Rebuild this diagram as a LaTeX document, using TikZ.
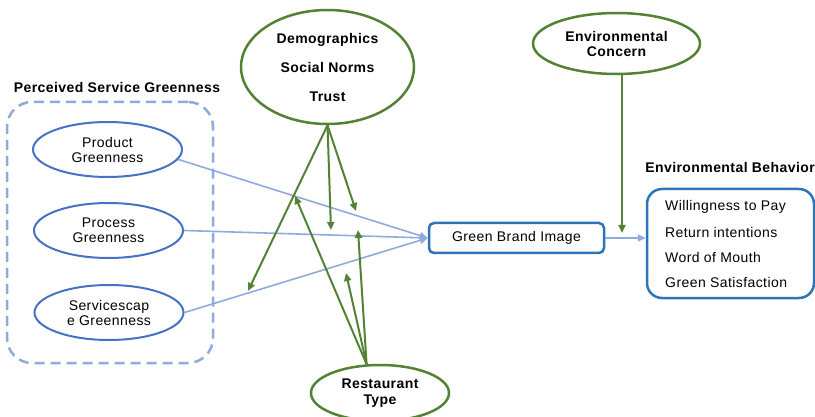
\documentclass[tikz,border=0pt]{standalone}
\usepackage{fontspec}
\setmainfont[LetterSpace=3]{Liberation Sans}
\usetikzlibrary{shapes.geometric,arrows.meta}
\definecolor{grn}{HTML}{548235}
\definecolor{ellblue}{HTML}{4472C4}
\definecolor{boxblue}{HTML}{2E75B6}
\definecolor{lblue}{HTML}{8FAADC}
\begin{document}
\begin{tikzpicture}[x=1pt,y=-1pt,
  gell/.style={ellipse,draw=grn,line width=2.5pt,inner sep=0pt,align=center,font=\fontsize{14}{15}\selectfont\bfseries},
  bell/.style={ellipse,draw=ellblue,line width=2pt,inner sep=0pt,align=center,minimum width=149pt,minimum height=55pt,font=\fontsize{14}{15}\selectfont},
  garr/.style={draw=grn,line width=2pt,-{Triangle[length=8pt,width=7pt]}},
  barr/.style={draw=lblue,line width=1.6pt,-{Triangle[length=8pt,width=7pt]}},
  hdr/.style={font=\fontsize{14}{16}\selectfont\bfseries},
  itm/.style={anchor=west,inner sep=0pt,font=\fontsize{14}{16}\selectfont}
]
\useasboundingbox (0,0) rectangle (815,417);

% perceived service greenness group
\node[draw=lblue,dash pattern=on 10pt off 6pt,line width=2.5pt,rounded corners=25pt,
      minimum width=206pt,minimum height=261pt,inner sep=0pt] (psg) at (110,232.5) {};
\node[hdr] (psglbl) at (117,87) {Perceived Service Greenness};
\node[bell] (prod) at (107.5,149.5) {Product\\Greenness};
\node[bell] (proc) at (108.5,230.5) {Process\\Greenness};
\node[bell] (serv) at (109,312.5) {Servicescap\\e Greenness};

% moderators
\node[gell,minimum width=173pt,minimum height=114pt] (demo) at (327.5,67)
  {Demographics\\[14pt]Social Norms\\[14pt]Trust};
\node[gell,minimum width=138pt,minimum height=56pt,font=\fontsize{14}{16.5}\selectfont\bfseries] (rest) at (380,393) {Restaurant\\Type};
\node[gell,minimum width=167pt,minimum height=61pt] (ec) at (616.5,43.5) {Environmental\\Concern};

% green brand image
\node[draw=boxblue,line width=2.5pt,rounded corners=5pt,minimum width=175pt,minimum height=30pt,
      inner sep=0pt,font=\fontsize{14}{16}\selectfont] (gbi) at (516.5,238) {Green Brand Image};

% environmental behavior
\node[draw=boxblue,line width=2.5pt,rounded corners=15pt,minimum width=167pt,minimum height=109pt,inner sep=0pt] (eb) at (730.5,243.5) {};
\node[hdr,anchor=east,inner sep=0pt] (eblbl) at (815,167) {Environmental Behavior};
\node[itm] (eb1) at (665,207) {Willingness to Pay};
\node[itm] (eb2) at (665,232) {Return intentions};
\node[itm] (eb3) at (665,257) {Word of Mouth};
\node[itm] (eb4) at (665,282) {Green Satisfaction};

% blue arrows
\draw[barr] (prod.-8) -- (gbi.west);
\draw[barr] (proc.east) -- (gbi.west);
\draw[barr] (serv.east) -- (gbi.west);
\draw[barr] (gbi.east) -- (gbi.east -| eb.west);

% green arrows from demographics
\coordinate (d1) at (331,230);
\coordinate (d2) at (356,211);
\coordinate (d3) at (248,291);
\draw[garr] (demo.south) -- (d1);
\draw[garr] (demo.south) -- (d2);
\draw[garr] (demo.south) -- (d3);

% green arrows from restaurant type
\coordinate (r1) at (358,230);
\coordinate (r2) at (346,273);
\coordinate (r3) at (295,196);
\draw[garr] (rest.115) -- (r1);
\draw[garr] (rest.115) -- (r2);
\draw[garr] (rest.115) -- (r3);

% environmental concern
\coordinate (ecend) at (622,233);
\draw[garr] (ec.south -| ecend) -- (ecend);
\end{tikzpicture}
\end{document}
